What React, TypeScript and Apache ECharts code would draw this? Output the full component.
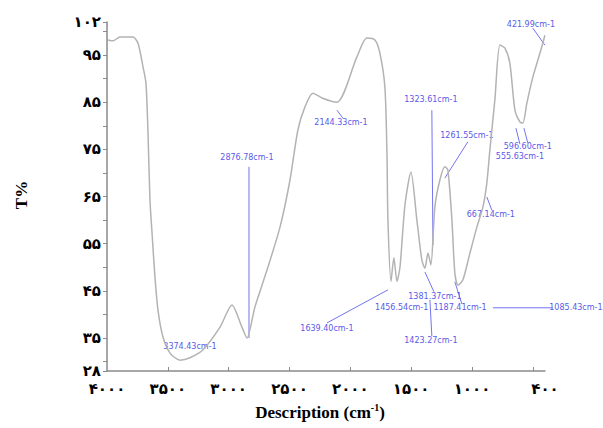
import React, { useEffect, useRef } from "react";
import * as echarts from "echarts";

// Spectrum (wavenumber cm-1, transmittance %)
const wavenumbers = [
  3992, 3951, 3893, 3786, 3745, 3704, 3680, 3663, 3647, 3630, 3606, 3581, 3540, 3482, 3400,
  3318, 3211, 3071, 2973, 2891, 2850, 2784, 2685, 2578, 2496, 2431, 2373, 2307, 2233, 2110,
  1946, 1864, 1798, 1757, 1716, 1699, 1691, 1666, 1642, 1617, 1592, 1551, 1502, 1453, 1412,
  1387, 1362, 1338, 1305, 1264, 1223, 1198, 1165, 1141, 1116, 1075, 1017, 960, 910, 878,
  853, 812, 771, 730, 689, 647, 606, 582, 549, 500, 459, 418, 401,
];
const transmittance = [
  98.2, 98.0, 98.8, 98.8, 97.5, 92.5, 89.1, 78.5, 64.3, 57.3, 48.0, 40.9, 35.2, 31.8, 30.3,
  30.8, 32.5, 37.3, 42.0, 37.3, 35.0, 41.6, 49.4, 58.5, 68.5, 79.1, 84.0, 86.9, 85.9, 85.0,
  94.6, 98.6, 98.2, 95.4, 88.2, 74.2, 60.0, 47.0, 52.0, 47.0, 50.0, 63.2, 70.2, 60.0, 51.5,
  49.8, 53.0, 50.5, 62.8, 68.5, 71.3, 70.6, 60.0, 48.8, 46.2, 47.3, 53.0, 58.5, 62.8, 67.9,
  74.9, 85.5, 97.1, 96.5, 93.3, 83.3, 80.8, 80.6, 84.8, 90.3, 93.9, 97.5, 99.2,
];

const yLabelValues = [28, 35, 45, 55, 65, 75, 85, 95, 102];
const yLabelTexts = ["۲۸", "۳۵", "۴۵", "۵۵", "۶۵", "۷۵", "۸۵", "۹۵", "۱۰۲"];
const yTickValues = [28, 30, 35, 40, 45, 50, 55, 60, 65, 70, 75, 80, 85, 90, 95, 100, 102];
const xLabelValues = [4000, 3500, 3000, 2500, 2000, 1500, 1000, 400];
const xLabelTexts = ["۴۰۰۰", "۳۵۰۰", "۳۰۰۰", "۲۵۰۰", "۲۰۰۰", "۱۵۰۰", "۱۰۰۰", "۴۰۰"];
const xTickValues = [3500, 3000, 2500, 2000, 1500, 1000, 500];

// Peak annotations: text, label anchor [wavenumber, T]
const annotationTexts = [
  "3374.43cm-1", "2876.78cm-1", "2144.33cm-1", "1323.61cm-1", "1261.55cm-1",
  "667.14cm-1", "596.60cm-1", "555.63cm-1", "421.99cm-1", "1639.40cm-1",
  "1381.37cm-1", "1456.54cm-1  1187.41cm-1", "1085.43cm-1", "1423.27cm-1",
];
const annotationAnchors = [
  [3318, 33.1], [2850, 73.2], [2077, 80.6], [1338, 85.5], [1042, 78.0],
  [845, 61.1], [541, 75.5], [606, 73.4], [516, 101.4], [2192, 37.1],
  [1305, 43.9], [1338, 41.4], [146, 41.4], [1338, 34.4],
];
// Leader lines: [w1, T1, w2, T2]
const leaderLines = [
  [2833, 71.3, 2833, 35.0],
  [2110, 83.3, 2061, 81.6],
  [1330, 83.3, 1321, 54.7],
  [1034, 76.6, 1223, 68.9],
  [878, 64.9, 837, 62.1],
  [639, 79.5, 606, 76.1],
  [573, 79.5, 541, 76.3],
  [500, 100.7, 401, 97.1],
  [2192, 38.2, 1691, 45.2],
  [1313, 44.8, 1387, 49.0],
  [828, 41.4, 335, 41.4],
  [1346, 43.1, 1330, 35.4],
  [1141, 46.9, 1083, 42.2],
];

const persianFont = '"DejaVu Sans"';
const serif = '"Liberation Serif", "Times New Roman", serif';

export default function App() {
  const ref = useRef<HTMLDivElement>(null);
  useEffect(() => {
    if (!ref.current) return;
    const chart = echarts.init(ref.current, undefined, { renderer: "svg" });
    const yMap: Record<string, string> = {};
    yLabelValues.forEach((v, i) => (yMap[String(v)] = yLabelTexts[i]));
    const xMap: Record<string, string> = {};
    xLabelValues.forEach((v, i) => (xMap[String(v)] = xLabelTexts[i]));

    chart.setOption({
      animation: false,
      backgroundColor: "#ffffff",
      grid: { left: 107, right: 58, top: 22, bottom: 57 },
      xAxis: {
        type: "value",
        inverse: true,
        min: 400,
        max: 4000,
        splitLine: { show: false },
        axisLine: { show: true, lineStyle: { color: "#8a8a8a", width: 1.5 } },
        axisTick: { show: true, inside: true, length: 4, customValues: xTickValues, lineStyle: { color: "#8a8a8a" } },
        axisLabel: {
          customValues: xLabelValues,
          formatter: (v: number) => xMap[String(v)] ?? "",
          color: "#000",
          fontFamily: persianFont,
          fontWeight: "bold",
          fontSize: 15,
          margin: 10,
        },
      },
      yAxis: {
        type: "value",
        min: 28,
        max: 102,
        splitLine: { show: false },
        axisLine: { show: true, lineStyle: { color: "#8a8a8a", width: 1.5 } },
        axisTick: { show: true, length: 4, customValues: yTickValues, lineStyle: { color: "#8a8a8a" } },
        axisLabel: {
          customValues: yLabelValues,
          formatter: (v: number) => yMap[String(v)] ?? "",
          color: "#000",
          fontFamily: persianFont,
          fontWeight: "bold",
          fontSize: 15,
          margin: 6,
        },
      },
      series: [
        {
          type: "line",
          data: wavenumbers.map((w, i) => [w, transmittance[i]]),
          showSymbol: false,
          smooth: 0.25,
          lineStyle: { color: "#b3b3b3", width: 1.5 },
          clip: false,
        },
      ],
    });

    const toPx = (w: number, t: number) =>
      chart.convertToPixel({ xAxisIndex: 0, yAxisIndex: 0 }, [w, t]) as number[];

    const graphics: any[] = [];
    leaderLines.forEach((l) => {
      const a = toPx(l[0], l[1]);
      const b = toPx(l[2], l[3]);
      graphics.push({
        type: "line",
        shape: { x1: a[0], y1: a[1], x2: b[0], y2: b[1] },
        style: { stroke: "#7474f0", lineWidth: 1 },
        silent: true,
      });
    });
    annotationTexts.forEach((t, i) => {
      const p = toPx(annotationAnchors[i][0], annotationAnchors[i][1]);
      graphics.push({
        type: "text",
        x: p[0],
        y: p[1],
        style: {
          text: t,
          font: '8px "DejaVu Sans"',
          fill: "#5a5ae8",
          align: "center",
          verticalAlign: "middle",
        },
        silent: true,
      });
    });
    graphics.push({
      type: "text",
      x: 21,
      y: 195,
      rotation: Math.PI / 2,
      style: {
        text: "T%",
        font: 'bold 17px "Liberation Serif"',
        fill: "#000",
        align: "center",
        verticalAlign: "middle",
      },
    });
    graphics.push({
      type: "text",
      x: 320,
      y: 412,
      style: {
        text: "{a|Description (cm}{b|-1}{a|)}",
        align: "center",
        verticalAlign: "middle",
        rich: {
          a: { font: `bold 17px ${serif}`, fill: "#000", lineHeight: 20 },
          b: { font: `bold 10px ${serif}`, fill: "#000", lineHeight: 20, verticalAlign: "top", padding: [0, 0, 6, 0] },
        },
      },
    });
    chart.setOption({ graphic: graphics });

    return () => chart.dispose();
  }, []);
  return (
    <div
      ref={ref}
      style={{ position: "fixed", left: 0, top: 0, width: 603, height: 428, background: "#fff" }}
    />
  );
}
